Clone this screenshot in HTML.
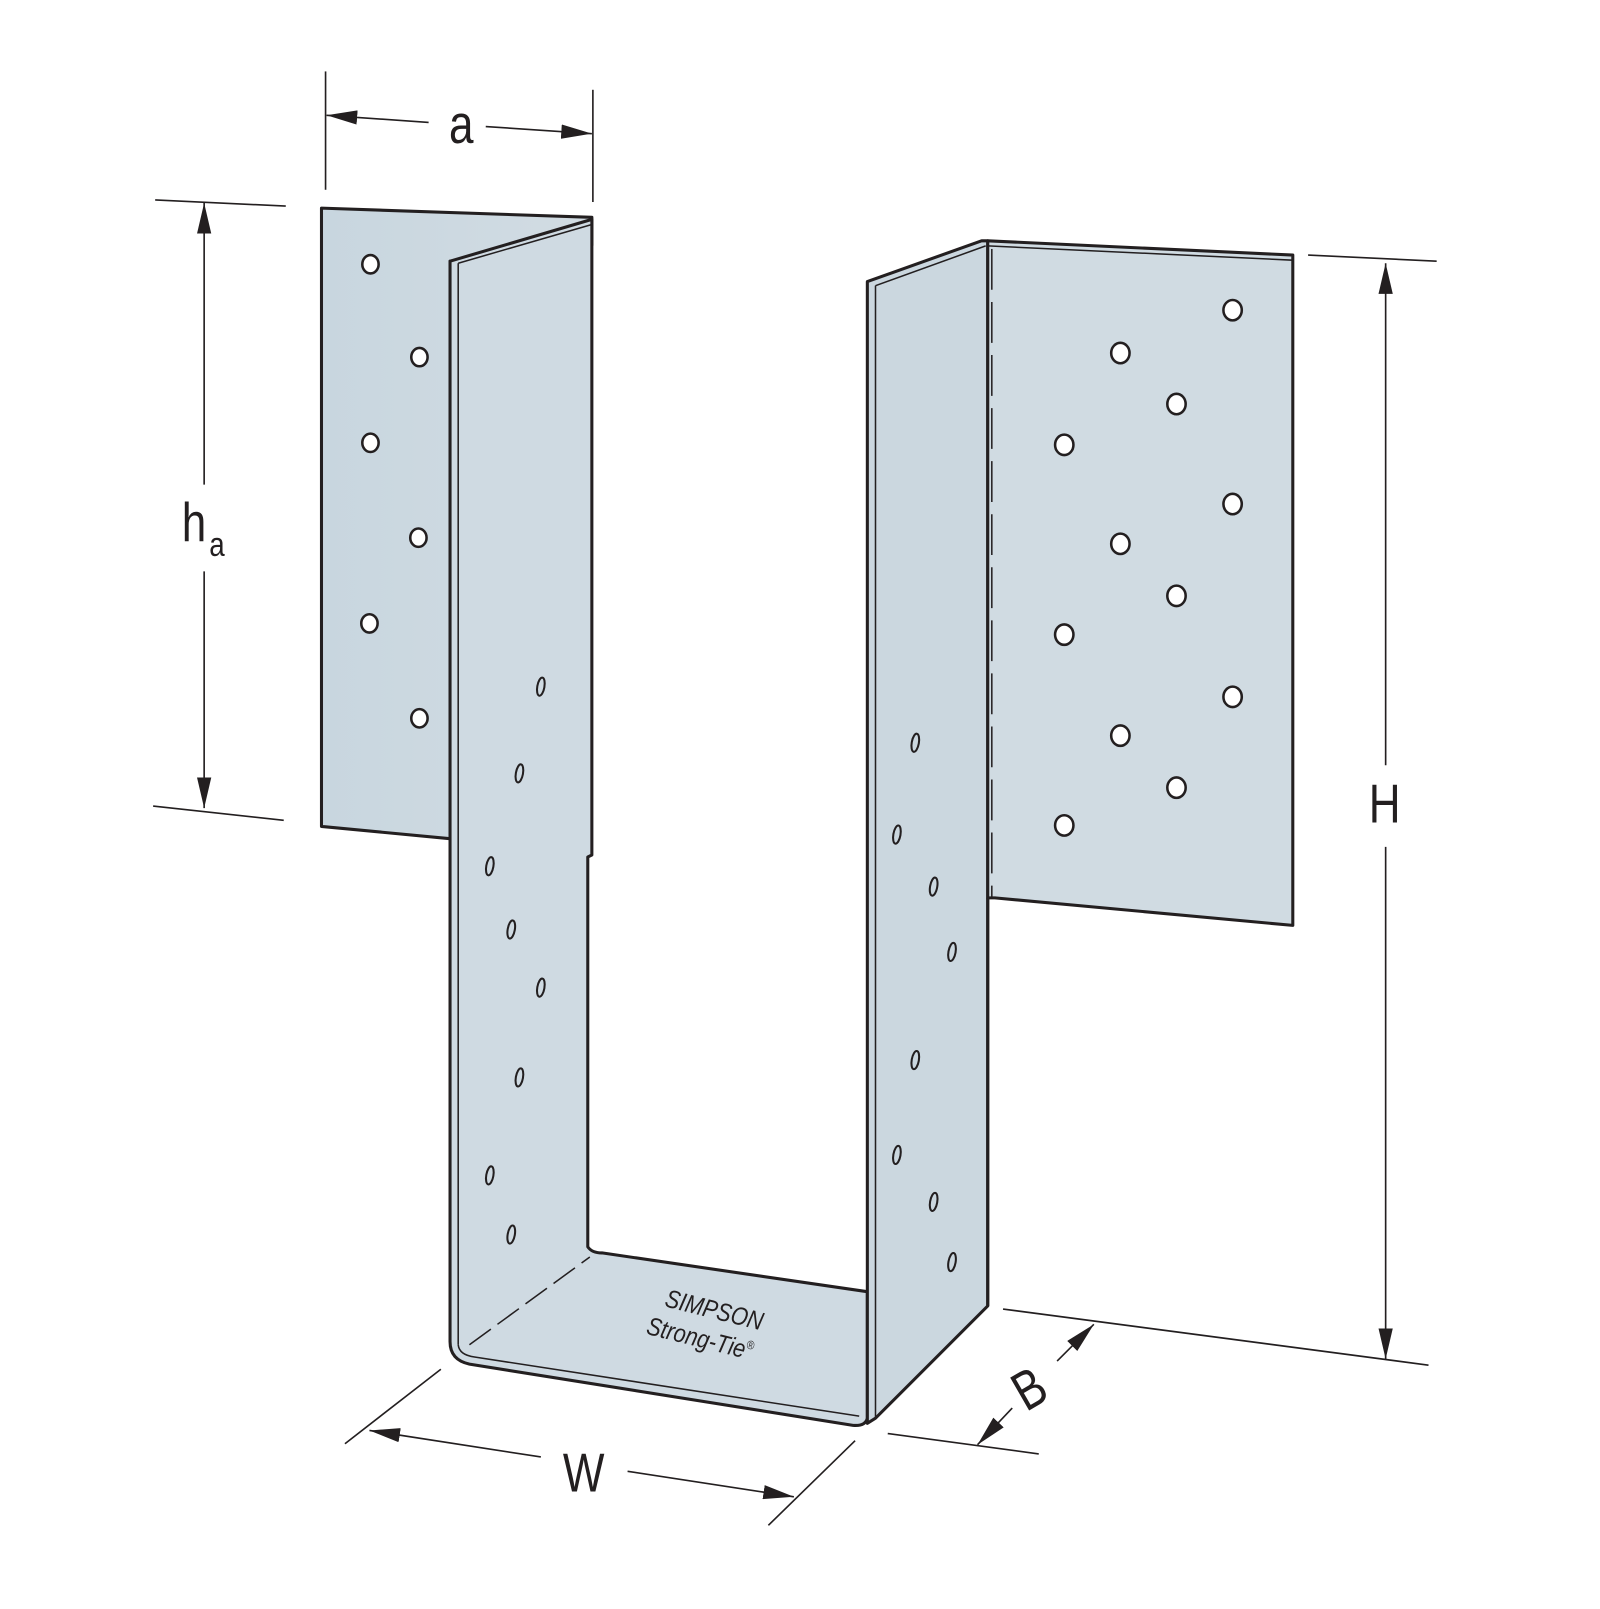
<!DOCTYPE html>
<html><head><meta charset="utf-8"><style>
html,body{margin:0;padding:0;background:#fff;width:1600px;height:1609px;overflow:hidden}
svg{display:block}
text{font-family:"Liberation Sans",sans-serif;fill:#231f20}
</style></head><body>
<svg width="1600" height="1609" viewBox="0 0 1568 1577" xmlns="http://www.w3.org/2000/svg">
<defs>
<linearGradient id="g1" x1="0" x2="1" y1="0" y2="0"><stop offset="0" stop-color="#c8d6df"/><stop offset="1" stop-color="#d2dce3"/></linearGradient>
<marker id="ar" viewBox="0 0 30 14" refX="30" refY="7" markerWidth="30" markerHeight="14" markerUnits="userSpaceOnUse" orient="auto"><path d="M0,0 L30,7 L0,14 Z" fill="#231f20"/></marker>
</defs>
<g stroke="#231f20" stroke-width="3" stroke-linejoin="round">
<path d="M315,204 L580,213 L580,240 L441,256 L441,822 L315,810 Z" fill="url(#g1)"/>
<path d="M441,256 L580,215 L580,838 L576,840 L576,1222 Q580,1228 590,1228 L850,1266 L850,1390 Q848,1398 836,1397 L460,1337 Q441,1333 441,1315 Z" fill="#cfdae2"/>
<line x1="449" y1="258" x2="449" y2="1318" stroke-width="1.5"/>
<line x1="449" y1="258" x2="580" y2="220" stroke-width="1.5"/>
<path d="M449,1318 Q450,1328 465,1330 L842,1388" fill="none" stroke-width="1.5"/>
<path d="M460,1318 L578,1232" fill="none" stroke-width="1.5" stroke-dasharray="26,8"/>
<path d="M850,276 L962,236 L968,236 L968,1280 L858,1390 L850,1395 Z" fill="#cbd7df"/>
<line x1="858" y1="280" x2="858" y2="1390" stroke-width="1.5"/>
<line x1="858" y1="280" x2="966" y2="241" stroke-width="1.5"/>
<path d="M968,236 L1267,250 L1267,907 L975,880 L968,880 Z" fill="#d0dbe2"/>
<line x1="968" y1="880" x2="968" y2="1280"/>
<line x1="972" y1="244" x2="972" y2="880" stroke-width="1.5" stroke-dasharray="40,12"/>
<line x1="968" y1="241" x2="1267" y2="255" stroke-width="1.5"/>
</g>
<g fill="#fff" stroke="#231f20" stroke-width="2.5">
<ellipse cx="363" cy="259" rx="8" ry="9"/><ellipse cx="411" cy="350" rx="8" ry="9"/><ellipse cx="363" cy="434" rx="8" ry="9"/><ellipse cx="410" cy="527" rx="8" ry="9"/><ellipse cx="362" cy="611" rx="8" ry="9"/><ellipse cx="411" cy="704" rx="8" ry="9"/>
<ellipse cx="1208" cy="304" rx="9" ry="10"/><ellipse cx="1098" cy="346" rx="9" ry="10"/><ellipse cx="1153" cy="396" rx="9" ry="10"/><ellipse cx="1043" cy="436" rx="9" ry="10"/><ellipse cx="1208" cy="494" rx="9" ry="10"/><ellipse cx="1098" cy="533" rx="9" ry="10"/><ellipse cx="1153" cy="584" rx="9" ry="10"/><ellipse cx="1043" cy="622" rx="9" ry="10"/><ellipse cx="1208" cy="683" rx="9" ry="10"/><ellipse cx="1098" cy="721" rx="9" ry="10"/><ellipse cx="1153" cy="772" rx="9" ry="10"/><ellipse cx="1043" cy="809" rx="9" ry="10"/>
</g>
<g fill="none" stroke="#231f20" stroke-width="2">
<ellipse cx="530" cy="673" rx="3.5" ry="9" transform="rotate(10 530 673)"/><ellipse cx="509" cy="758" rx="3.5" ry="9" transform="rotate(10 509 758)"/><ellipse cx="480" cy="849" rx="3.5" ry="9" transform="rotate(10 480 849)"/><ellipse cx="501" cy="911" rx="3.5" ry="9" transform="rotate(10 501 911)"/><ellipse cx="530" cy="968" rx="3.5" ry="9" transform="rotate(10 530 968)"/><ellipse cx="509" cy="1056" rx="3.5" ry="9" transform="rotate(10 509 1056)"/><ellipse cx="480" cy="1152" rx="3.5" ry="9" transform="rotate(10 480 1152)"/><ellipse cx="501" cy="1210" rx="3.5" ry="9" transform="rotate(10 501 1210)"/>
<ellipse cx="897" cy="728" rx="3.5" ry="9" transform="rotate(10 897 728)"/><ellipse cx="879" cy="818" rx="3.5" ry="9" transform="rotate(10 879 818)"/><ellipse cx="915" cy="869" rx="3.5" ry="9" transform="rotate(10 915 869)"/><ellipse cx="933" cy="933" rx="3.5" ry="9" transform="rotate(10 933 933)"/><ellipse cx="897" cy="1039" rx="3.5" ry="9" transform="rotate(10 897 1039)"/><ellipse cx="879" cy="1132" rx="3.5" ry="9" transform="rotate(10 879 1132)"/><ellipse cx="915" cy="1178" rx="3.5" ry="9" transform="rotate(10 915 1178)"/><ellipse cx="933" cy="1237" rx="3.5" ry="9" transform="rotate(10 933 1237)"/>
</g>
<text x="0" y="0" font-size="25" font-style="italic" text-anchor="middle" transform="translate(698,1292) rotate(14) scale(0.85,1)">SIMPSON</text>
<text x="0" y="0" font-size="25" font-style="italic" text-anchor="middle" transform="translate(684,1320) rotate(14) scale(0.85,1)">Strong-Tie<tspan font-size="12" dy="-10">®</tspan></text>
<g stroke="#231f20" stroke-width="1.6" fill="none">
<line x1="319" y1="70" x2="319" y2="186"/><line x1="581" y1="88" x2="581" y2="198"/>
<line x1="420" y1="120" x2="320" y2="113" marker-end="url(#ar)"/><line x1="476" y1="124" x2="580" y2="131" marker-end="url(#ar)"/>
<line x1="152" y1="196" x2="280" y2="202"/><line x1="150" y1="790" x2="278" y2="804"/>
<line x1="200" y1="475" x2="200" y2="199" marker-end="url(#ar)"/><line x1="200" y1="560" x2="200" y2="792" marker-end="url(#ar)"/>
<line x1="1282" y1="250" x2="1408" y2="256"/><line x1="983" y1="1283" x2="1400" y2="1338"/>
<line x1="1358" y1="750" x2="1358" y2="258" marker-end="url(#ar)"/><line x1="1358" y1="830" x2="1358" y2="1332" marker-end="url(#ar)"/>
<line x1="338" y1="1415" x2="432" y2="1342"/><line x1="753" y1="1495" x2="838" y2="1412"/>
<line x1="530" y1="1428" x2="362" y2="1402" marker-end="url(#ar)"/><line x1="615" y1="1442" x2="778" y2="1467" marker-end="url(#ar)"/>
<line x1="870" y1="1405" x2="1018" y2="1425"/>
<line x1="992" y1="1380" x2="958" y2="1416" marker-end="url(#ar)"/><line x1="1036" y1="1334" x2="1072" y2="1298" marker-end="url(#ar)"/>
</g>
<g font-size="54">
<text transform="translate(452,140) scale(0.8,1)" text-anchor="middle">a</text>
<text transform="translate(178,530) scale(0.8,1)">h</text><text transform="translate(205,545) scale(0.8,1)" font-size="34">a</text>
<text transform="translate(1357,806) scale(0.8,1)" text-anchor="middle">H</text>
<text transform="translate(572,1462) scale(0.8,1)" text-anchor="middle">W</text>
<text x="0" y="0" text-anchor="middle" transform="translate(1018,1377) rotate(-30) scale(0.8,1)">B</text>
</g>
</svg>
</body></html>
